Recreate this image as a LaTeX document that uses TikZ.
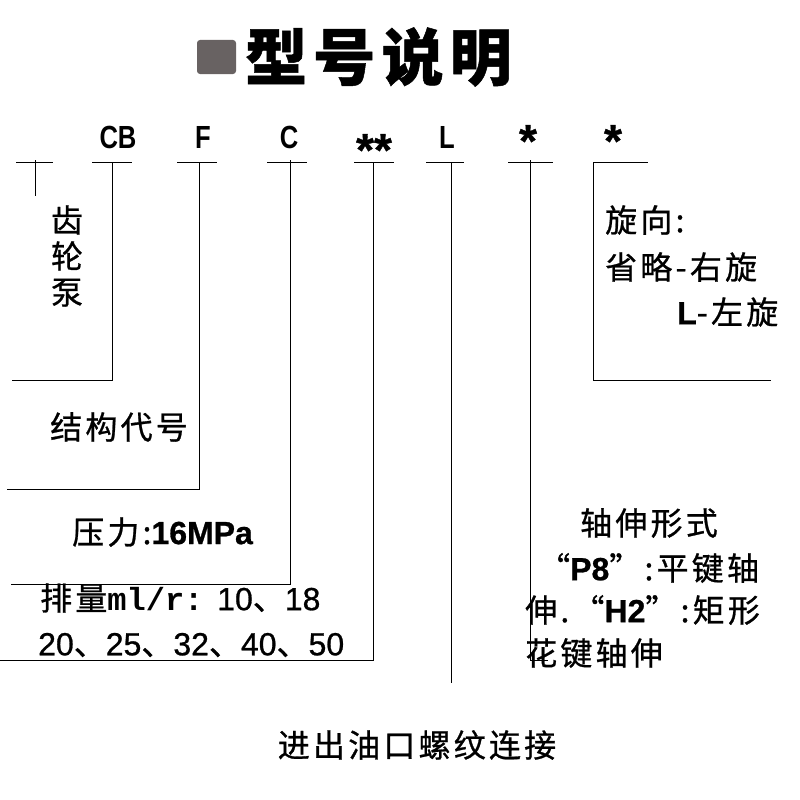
\documentclass[tikz,border=0pt]{standalone}
\usepackage{fontspec}
\setmainfont{Noto Sans CJK SC}[LetterSpace=10,FakeBold=0.8]
\newfontfamily\codefont[FakeStretch=0.8]{Liberation Sans}
\newfontfamily\latfont[FakeBold=0.8]{Liberation Sans}
\newfontfamily\monofont{Liberation Mono}
\usetikzlibrary{positioning}
\definecolor{bloc}{RGB}{104,98,98}

\tikzset{
  code/.style={font=\codefont\bfseries\fontsize{32}{36}\selectfont,inner sep=0pt},
  etoile/.style={font=\latfont\bfseries\fontsize{46}{50}\selectfont,inner sep=0pt},
  desc/.style={font=\fontsize{32}{36}\selectfont,inner sep=0pt,anchor=west},
  fil/.style={line width=0.9pt},
}

\begin{document}
\begin{tikzpicture}[x=1pt,y=-1pt]
  \useasboundingbox (0,0) rectangle (800,800);
  % titre
  \fill[bloc,rounded corners=3pt](197,40) rectangle (236,74);
  \node[font=\bfseries\fontsize{62}{66}\selectfont,anchor=west,inner sep=0pt] (titre) at (245,57) {型号说明};

  % lettres du code
  \node[code] (cb) at (118,137) {CB};
  \node[code] (f) at (203,137) {F};
  \node[code] (c) at (289,137) {C};
  \node[etoile] (cyl) at (374,150) {**};
  \node[code] (l) at (447,137) {L};
  \node[etoile] (arbre) at (528,141) {*};
  \node[etoile] (sens) at (613,141) {*};

  % traits sous les lettres
  \foreach \xa/\xb in {16/53,92/132,177/217,267/307,354/394,426/464,508/553,593/648}
    \draw[fil](\xa,162)--(\xb,162);

  % renvois
  \draw[fil](35,160)--(35,196);
  \draw[fil](112,162)|-(12,380);
  \draw[fil](199,162)|-(7,489);
  \draw[fil](290,160)|-(11,584);
  \draw[fil](373,162)|-(0,660);
  \draw[fil](451,162)--(451,683);
  \draw[fil](530,160)|-(548,660);
  \draw[fil](593,162)|-(771,380);

  % textes
  \node[desc,anchor=center,align=center] (pompe) at (67,256) {齿\\轮\\泵};
  \node[desc] (struct) at (50,427) {结构代号};
  \node[desc] (pression) at (72,532) {压力:{\latfont\bfseries 16MPa}};
  \node[desc] (debit) at (40,598) {排量{\monofont\bfseries ml/r:} {\latfont 10}、{\latfont 18}};
  \node[desc] (debit2) at (38,645) {{\latfont 20}、{\latfont 25}、{\latfont 32}、{\latfont 40}、{\latfont 50}};
  \node[desc] (rot) at (605,220) {旋向:};
  \node[desc] (rot2) at (605,267) {省略-右旋};
  \node[desc] (rot3) at (677,312) {{\latfont\bfseries L}-左旋};
  \node[desc] (axe) at (580,523) {轴伸形式};
  \node[desc] (axe2) at (538,568) {“{\latfont\bfseries P8}”:平键轴};
  \node[desc] (axe3) at (525,610) {伸.“{\latfont\bfseries H2}”:矩形};
  \node[desc] (axe4) at (525,653) {花键轴伸};
  \node[desc,anchor=center] (raccord) at (417,745) {进出油口螺纹连接};
\end{tikzpicture}
\end{document}
